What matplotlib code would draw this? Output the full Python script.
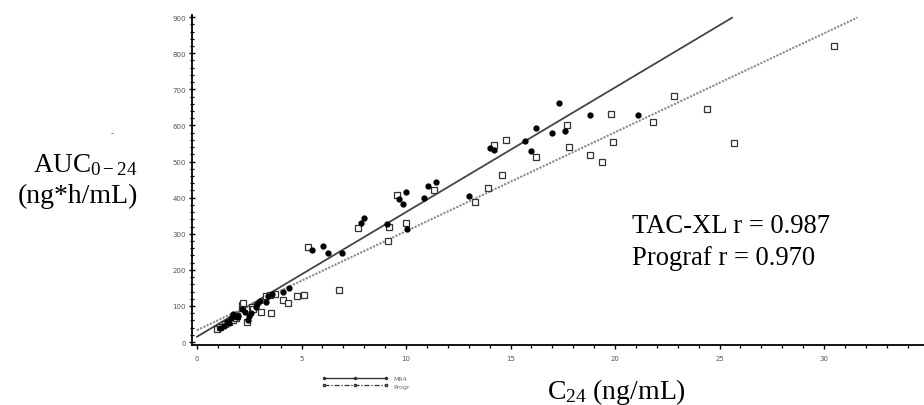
import numpy as np
import matplotlib
matplotlib.use("Agg")
import matplotlib.pyplot as plt
from matplotlib.lines import Line2D
from matplotlib.ticker import MultipleLocator

# C24 (ng/mL) y AUC0-24 (ng*h/mL) de cada paciente
c24_tacxl = [1.1, 1.3, 1.42, 1.55, 1.63, 1.74, 1.9, 1.98, 2.14, 2.3, 2.46, 2.5,
             2.6, 2.82, 2.86, 3.0, 3.3, 3.41, 3.6, 4.1, 4.42, 5.52, 6.01, 6.25,
             6.92, 7.85, 7.99, 9.1, 9.68, 9.84, 10.0, 10.06, 10.88, 11.07, 11.44,
             13.0, 14.0, 14.2, 15.7, 16.0, 16.2, 17.0, 17.3, 17.6, 18.8, 21.1]
auc_tacxl = [39, 45, 55, 52, 66, 78, 70, 73, 91, 84, 62, 73,
             80, 96, 105, 115, 110, 127, 133, 138, 151, 256, 267, 248,
             248, 331, 345, 327, 396, 382, 415, 313, 399, 433, 442,
             405, 538, 533, 557, 529, 594, 579, 662, 584, 630, 630]

c24_prograf = [0.94, 1.1, 1.35, 1.55, 1.7, 1.87, 1.93, 2.14, 2.19, 2.38, 2.62, 2.66,
               3.05, 3.29, 3.5, 3.54, 3.73, 4.1, 4.34, 4.8, 5.13, 5.33, 6.77, 7.72,
               9.15, 9.2, 9.55, 10.0, 11.35, 13.3, 13.9, 14.2, 14.6, 14.8, 16.2,
               17.7, 17.8, 18.8, 19.4, 19.8, 19.9, 21.8, 22.8, 24.4, 25.7, 30.5]
auc_prograf = [36, 41, 50, 56, 62, 66, 73, 102, 107, 56, 96, 91,
               82, 128, 131, 80, 132, 116, 108, 127, 131, 264, 145, 315,
               279, 319, 408, 330, 420, 389, 426, 546, 463, 560, 513,
               601, 541, 518, 500, 632, 555, 610, 682, 645, 550, 821]

# rectas de regresion (ordenada, pendiente, x final)
recta_tacxl = (15, 34.5, 25.6)
recta_prograf = (33, 27.4, 31.6)

r_tacxl = 0.987
r_prograf = 0.970

plt.rcParams["mathtext.fontset"] = "custom"
plt.rcParams["mathtext.rm"] = "Liberation Serif"
plt.rcParams["mathtext.it"] = "Liberation Serif"
serif = "Liberation Serif"

fig = plt.figure(figsize=(9.24, 4.06), dpi=100)
ax = fig.add_axes([0.2078, 0.1478, 0.8016, 0.8121])

# lineas
b, m, xf = recta_tacxl
xs = np.array([0, xf])
ax.plot(xs, b + m * xs, color="#444444", lw=1.3, zorder=2)
b, m, xf = recta_prograf
xs = np.array([0, xf])
ax.plot(xs, b + m * xs, color="#8a8a8a", lw=1.5, ls=(0, (1, 0.7)), zorder=2)

# puntos
ax.plot(c24_prograf, auc_prograf, ls="none", marker="s", ms=4.8, mfc="white",
        mec="#333333", mew=0.9, zorder=3)
ax.plot(c24_tacxl, auc_tacxl, ls="none", marker="o", ms=3.5, mfc="black",
        mec="black", zorder=4)

ax.set_xlim(-0.24, 35.2)
ax.set_ylim(-8, 905)
ax.spines["top"].set_visible(False)
ax.spines["right"].set_visible(False)
ax.spines["left"].set_linewidth(1.3)
ax.spines["bottom"].set_linewidth(1.3)

ax.xaxis.set_major_locator(MultipleLocator(5))
ax.xaxis.set_minor_locator(MultipleLocator(1))
ax.yaxis.set_major_locator(MultipleLocator(100))
ax.yaxis.set_minor_locator(MultipleLocator(20))
ax.tick_params(axis="x", which="major", direction="out", length=3, width=1,
               labelsize=5, labelcolor="#555555", pad=4)
ax.tick_params(axis="x", which="minor", direction="out", length=2.5, width=0.9)
ax.tick_params(axis="y", which="major", direction="inout", length=5, width=1,
               labelsize=5, labelcolor="#555555", pad=2)
ax.tick_params(axis="y", which="minor", direction="inout", length=3, width=0.9)

# leyenda chiquita abajo
h1 = Line2D([], [], color="#333333", lw=1, marker="o", ms=1.5)
h2 = Line2D([], [], color="#333333", lw=0.9, ls=(0, (4, 1.5, 1, 1.5)),
            marker="s", ms=1.8, mfc="white")
fig.legend([h1, h2], ["MR4", "Progr"], loc="center left",
           bbox_to_anchor=(0.345, 0.0565), frameon=False, fontsize=4.5,
           handlelength=10.5, numpoints=3, labelspacing=0.35,
           handletextpad=1.0, borderpad=0, labelcolor="#666666")

fig.text(0.149, 0.5936, r"AUC$_{\mathrm{0-24}}$", family=serif, fontsize=19.5,
         ha="right", va="center")
fig.text(0.149, 0.5172, "(ng*h/mL)", family=serif, fontsize=20,
         ha="right", va="center")
fig.text(0.122, 0.672, "-", family=serif, fontsize=7, color="#777777",
         ha="center", va="center")
fig.text(0.592, 0.035, r"C$_{\mathrm{24}}$ (ng/mL)", family=serif, fontsize=20,
         ha="left", va="center")

fig.text(0.684, 0.4416, "TAC-XL r = %.3f" % r_tacxl, family=serif, fontsize=19.2,
         ha="left", va="center")
fig.text(0.684, 0.3645, "Prograf r = %.3f" % r_prograf, family=serif, fontsize=19.2,
         ha="left", va="center")

fig.savefig("out.png", dpi=100)
